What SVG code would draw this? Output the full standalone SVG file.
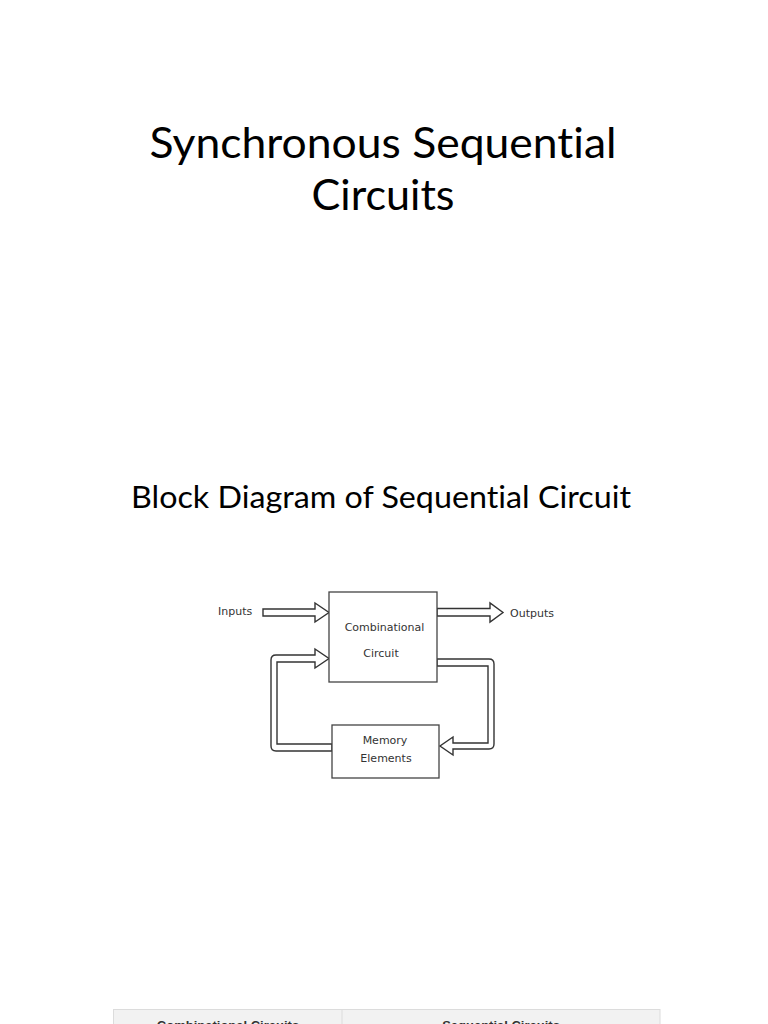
<svg xmlns="http://www.w3.org/2000/svg" width="768" height="1024" viewBox="0 0 768 1024">
<style>
.title{font-family:Lato,"Open Sans",sans-serif;fill:#000;font-variant-ligatures:none}
.lbl{font-family:"DejaVu Sans",Verdana,sans-serif;font-size:11px;fill:#333}
.box{fill:#fff;stroke:#444;stroke-width:1.3}
.arr{fill:#fff;stroke:#333;stroke-width:1.4;stroke-linejoin:miter}
.th{font-family:"Liberation Sans",Arial,sans-serif;font-size:13px;font-weight:bold;fill:#333}
</style>
<rect width="768" height="1024" fill="#fff"/>
<g id="title">
<text class="title" x="383" y="158" font-size="42" text-anchor="middle" textLength="467" lengthAdjust="spacingAndGlyphs">Synchronous Sequential</text>
<text class="title" x="383" y="210" font-size="42" text-anchor="middle" textLength="143" lengthAdjust="spacingAndGlyphs">Circuits</text>
</g>
<g id="subtitle">
<text class="title" x="381" y="508" font-size="31" text-anchor="middle" textLength="500" lengthAdjust="spacingAndGlyphs">Block Diagram of Sequential Circuit</text>
</g>
<g id="connectors">
<path class="arr" d="M263,609 L315,609 L315,603 L329,612.5 L315,622 L315,616 L263,616 Z"/>
<path class="arr" d="M437,608.5 L490,608.5 L490,603 L503,612.5 L490,622 L490,616 L437,616 Z"/>
<path class="arr" d="M437,659 L489,659 Q494,659 494,664 L494,744 Q494,749 489,749 L453,749 L453,755 L440,746 L453,737 L453,743 L488,743 L488,666 L437,666 Z"/>
<path class="arr" d="M332,744 L277,744 L277,662 L315,662 L315,668 L329,658.5 L315,649 L315,655 L276,655 Q271,655 271,660 L271,746 Q271,751 276,751 L332,751 Z"/>
</g>
<g id="inputs"><text class="lbl" x="218" y="615">Inputs</text></g>
<g id="outputs"><text class="lbl" x="510" y="617">Outputs</text></g>
<g id="combinational">
<rect class="box" x="329" y="592" width="108" height="90"/>
<text class="lbl" x="384.5" y="631" text-anchor="middle">Combinational</text>
<text class="lbl" x="381" y="657" text-anchor="middle">Circuit</text>
</g>
<g id="memory">
<rect class="box" x="332" y="725" width="107" height="53"/>
<text class="lbl" x="385" y="744" text-anchor="middle">Memory</text>
<text class="lbl" x="386" y="762" text-anchor="middle">Elements</text>
</g>
<g id="table">
<rect x="113.5" y="1009.5" width="546.5" height="20" fill="#f2f2f2" stroke="#dcdcdc"/>
<line x1="342" y1="1010" x2="342" y2="1024" stroke="#dcdcdc"/>
<text class="th" x="228" y="1030" text-anchor="middle">Combinational Circuits</text>
<text class="th" x="501" y="1030" text-anchor="middle">Sequential Circuits</text>
</g>
</svg>
